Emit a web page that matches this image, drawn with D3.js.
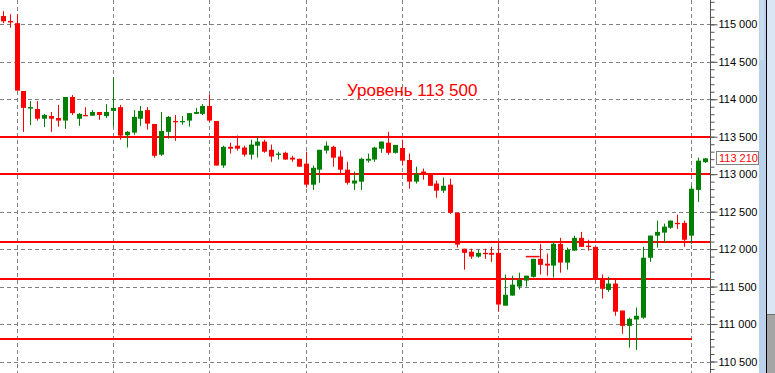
<!DOCTYPE html>
<html>
<head>
<meta charset="utf-8">
<script src="https://cdn.jsdelivr.net/npm/d3@7"></script>
<style>
  body { margin: 0; background: #fff; }
  svg { display: block; }
</style>
</head>
<body>
<svg id="chart" width="775" height="373"></svg>
<script>
// candles, left to right
const opens = [115110,115045,115015,114110,113875,113870,113740,113775,113750,113715,
  114030,113740,113790,113780,113830,113775,113845,113895,113520,113555,
  113740,113855,113670,113260,113565,113710,113695,113715,113805,113805,
  113910,113710,113115,113365,113380,113355,113260,113380,113435,113325,
  113260,113285,113220,113205,113140,112860,113060,113315,113365,113235,
  113060,112875,112900,113180,113195,113340,113420,113285,113350,113190,
  112900,113035,112995,112875,112780,112860,112485,112005,111965,111900,
  111950,111950,111950,111245,111380,111500,111580,111630,111870,111805,
  111780,112070,111820,111980,112150,112045,112030,111600,111455,111540,
  111180,110975,111060,111085,111885,112180,112220,112285,112350,112350,
  112180,112790,113160];
const highs = [115175,115135,115135,114110,113975,113975,113805,113830,113925,114030,
  114055,113815,113895,113855,113830,113935,114285,113925,113575,113855,
  113910,113895,113670,113830,113775,113790,113775,113815,113885,113935,
  114060,113710,113380,113420,113515,113380,113460,113500,113460,113395,
  113300,113300,113245,113205,113300,113115,113325,113435,113380,113315,
  113165,113035,113220,113275,113365,113435,113565,113390,113460,113275,
  113100,113075,112995,112915,112955,112940,112485,112005,112005,111990,
  112005,112030,112100,111660,111645,111685,111645,111870,112070,111940,
  112100,112150,112020,112180,112230,112125,112030,111660,111630,111605,
  111180,111085,111220,112030,112180,112380,112340,112380,112460,112380,
  112845,113220,113215];
const lows = [115015,114955,114115,113565,113655,113715,113630,113565,113635,113605,
  113790,113645,113780,113780,113725,113750,113635,113460,113355,113525,
  113645,113595,113220,113245,113475,113445,113660,113635,113805,113790,
  113695,113115,113085,113275,113315,113235,113195,113220,113285,113165,
  113195,113195,113165,113100,112820,112790,112885,113275,113100,113015,
  112860,112790,112790,113155,113165,113285,113260,113275,113115,112805,
  112875,112925,112845,112685,112750,112470,112020,111725,111870,111885,
  111870,111830,111165,111245,111380,111460,111500,111620,111660,111645,
  111620,111685,111725,111980,112030,111980,111600,111340,111430,111110,
  110870,110685,110655,111070,111830,112020,112085,112270,112270,112030,
  112070,112630,113150];
const closes = [115040,115025,114115,113885,113895,113740,113790,113740,113715,114030,
  113815,113805,113780,113830,113790,113830,113885,113515,113565,113765,
  113845,113675,113245,113575,113765,113695,113710,113815,113830,113910,
  113715,113115,113365,113340,113340,113260,113395,113435,113300,113235,
  113275,113195,113195,113100,112860,113085,113325,113380,113220,113060,
  112885,112915,113205,113205,113355,113435,113285,113390,113180,112900,
  113005,112995,112845,112780,112845,112485,112060,111950,111900,111950,
  111940,111925,111260,111390,111525,111590,111645,111870,111790,111780,
  112070,111820,111990,112150,112030,112030,111600,111470,111540,111165,
  110975,111070,111110,111885,112180,112230,112300,112380,112340,112125,
  112805,113180,113210];

// drawn levels
const levels = [113500, 113000, 112100, 111600];
const lowLevel = 110800;          // stops at bar 100
const shortLevel = 111900;        // small segment, bars 76-78
const majorTicks = d3.range(110500, 115001, 500);
const minorTicks = d3.range(110400, 115301, 100);
const lastPrice = 113210;
const labelText = "Уровень 113 500";

const svg = d3.select("#chart");
const W = 775, H = 373, axisX = 710.5;

const x = d3.scaleLinear().domain([0, opens.length - 1]).range([2.8, 704.8]);
const y = d3.scaleLinear().domain([110500, 115000]).range([361.5, 24.3]);
const fmt = v => d3.format(",")(v).replace(",", " ");

// grid
const grid = svg.append("g").attr("stroke", "#808080").attr("stroke-dasharray", "4,3");
grid.selectAll(".h").data(majorTicks).join("line")
    .attr("x1", 0).attr("x2", axisX)
    .attr("y1", d => Math.round(y(d)) + 0.5).attr("y2", d => Math.round(y(d)) + 0.5);
grid.selectAll(".v").data(d3.range(2, opens.length, 14)).join("line")
    .attr("x1", d => Math.round(x(d)) + 0.5).attr("x2", d => Math.round(x(d)) + 0.5)
    .attr("y1", 0).attr("y2", H);

// level lines
const lv = svg.append("g").attr("stroke", "#ff0000").attr("stroke-width", 2);
lv.selectAll("line").data(levels).join("line")
    .attr("x1", 0).attr("x2", axisX)
    .attr("y1", d => Math.round(y(d))).attr("y2", d => Math.round(y(d)));
lv.append("line")
    .attr("x1", 0).attr("x2", Math.round(x(100)) + 1)
    .attr("y1", Math.round(y(lowLevel))).attr("y2", Math.round(y(lowLevel)));
lv.append("line").attr("stroke-width", 1.5)
    .attr("x1", x(76)).attr("x2", x(78))
    .attr("y1", y(shortLevel)).attr("y2", y(shortLevel));

// candles
const bars = svg.append("g").selectAll("g").data(opens.map((o, i) => i)).join("g")
    .attr("fill", i => closes[i] >= opens[i] ? "#008000" : "#ff0000")
    .attr("stroke", i => closes[i] >= opens[i] ? "#008000" : "#ff0000");
bars.append("line")
    .attr("x1", i => Math.round(x(i)) + 0.5).attr("x2", i => Math.round(x(i)) + 0.5)
    .attr("y1", i => y(highs[i])).attr("y2", i => y(lows[i]))
    .attr("stroke-width", 1);
bars.append("rect")
    .attr("stroke", "none")
    .attr("x", i => Math.round(x(i)) - 2)
    .attr("width", 5)
    .attr("y", i => y(Math.max(opens[i], closes[i])))
    .attr("height", i => Math.max(1.3, Math.abs(y(opens[i]) - y(closes[i]))));

// label
svg.append("text")
    .attr("x", 347).attr("y", 96)
    .attr("fill", "#ff0000")
    .style("font", "17px 'Liberation Sans', Arial, sans-serif")
    .text(labelText);

// price axis
svg.append("rect").attr("x", axisX + 0.5).attr("y", 0).attr("width", 48).attr("height", H).attr("fill", "#fff");
svg.append("line").attr("x1", axisX).attr("x2", axisX).attr("y1", 0).attr("y2", H).attr("stroke", "#555");

const minor = svg.append("g").attr("transform", `translate(${axisX},0)`)
    .call(d3.axisRight(y).tickValues(minorTicks).tickSize(4).tickFormat(""));
minor.select(".domain").remove();
minor.selectAll("line").attr("stroke", "#555");

const major = svg.append("g").attr("transform", `translate(${axisX},0)`)
    .call(d3.axisRight(y).tickValues(majorTicks).tickSize(7).tickPadding(1).tickFormat(fmt));
major.select(".domain").remove();
major.selectAll("line").attr("stroke", "#555");
major.selectAll("text")
    .attr("fill", "#000")
    .style("font", "11px 'Liberation Sans', Arial, sans-serif");

// last price box
const py = y(lastPrice);
svg.append("rect")
    .attr("x", 716.5).attr("y", Math.round(py) - 6.5)
    .attr("width", 42).attr("height", 13)
    .attr("fill", "#fff").attr("stroke", "#808080");
svg.append("text")
    .attr("x", 719).attr("y", py).attr("dy", "0.35em")
    .attr("fill", "#ff0000")
    .style("font", "11px 'Liberation Sans', Arial, sans-serif")
    .text(fmt(lastPrice));

// scrollbar strip on the right
svg.append("rect").attr("x", 759).attr("y", 0).attr("width", 7).attr("height", H).attr("fill", "#b9d1ea");
svg.append("rect").attr("x", 760).attr("y", 0).attr("width", 4).attr("height", 60).attr("fill", "#c9dcef");
svg.append("line").attr("x1", 766.5).attr("x2", 766.5).attr("y1", 0).attr("y2", H).attr("stroke", "#000");
svg.append("rect").attr("x", 767).attr("y", 0).attr("width", 8).attr("height", 314).attr("fill", "#dae6f3");
svg.append("rect").attr("x", 767).attr("y", 314).attr("width", 8).attr("height", H - 314).attr("fill", "#a5a5a5");
svg.append("line").attr("x1", 767).attr("x2", 775).attr("y1", 314.5).attr("y2", 314.5).attr("stroke", "#707070");
</script>
</body>
</html>
